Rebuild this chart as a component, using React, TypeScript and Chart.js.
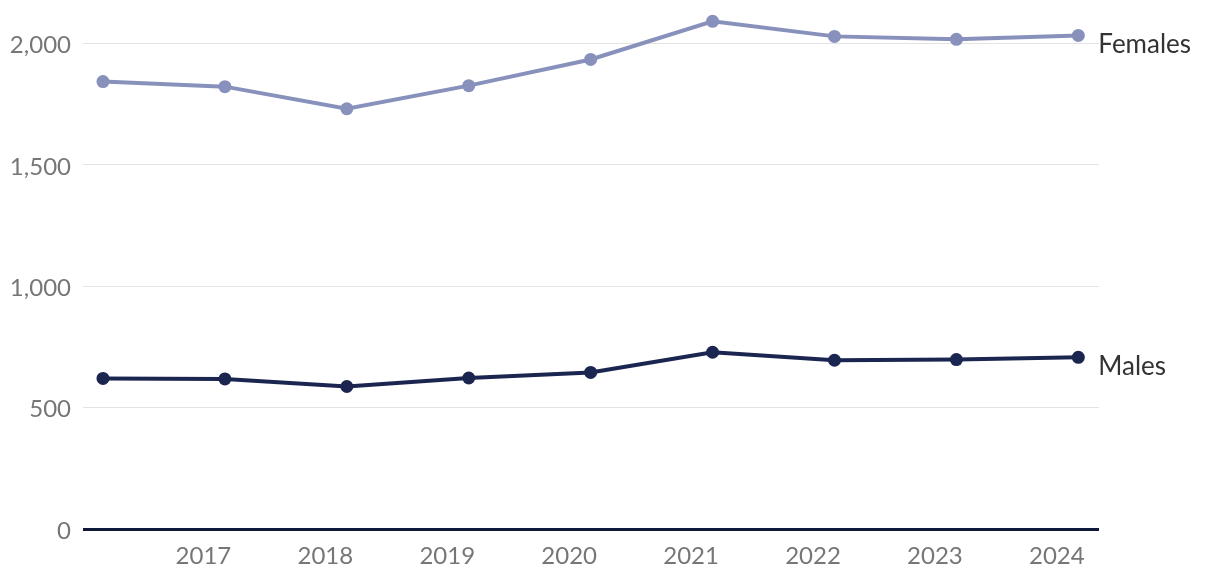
import React, { useEffect, useRef } from "react";
import { Chart, registerables } from "chart.js";

Chart.register(...registerables);

const years = [2016, 2017, 2018, 2019, 2020, 2021, 2022, 2023, 2024];
const females = [1843, 1822, 1731, 1826, 1934, 2091, 2029, 2017, 2033];
const males = [620, 618, 587, 622, 645, 728, 695, 698, 707];
const xTickYears = [2017, 2018, 2019, 2020, 2021, 2022, 2023, 2024];
const yTickValues = [0, 500, 1000, 1500, 2000];
const seriesNames = ["Females", "Males"];

const FEMALE_COLOR = "#8891bc";
const MALE_COLOR = "#1b2650";
const FONT = "Lato";

const endLabels = {
  id: "endLabels",
  afterDatasetsDraw(chart: any) {
    const ctx = chart.ctx;
    ctx.save();
    ctx.font = `26px ${FONT}`;
    ctx.fillStyle = "#333333";
    ctx.textAlign = "left";
    ctx.textBaseline = "middle";
    chart.data.datasets.forEach((ds: any, i: number) => {
      const meta = chart.getDatasetMeta(i);
      const last = meta.data[meta.data.length - 1];
      if (!last) return;
      ctx.fillText(ds.label, last.x + 20, last.y + 9.5);
    });
    ctx.restore();
  },
};

export default function App() {
  const ref = useRef<HTMLCanvasElement | null>(null);
  useEffect(() => {
    document.body.style.margin = "0";
    const canvas = ref.current;
    if (!canvas) return;
    const chart = new Chart(canvas, {
      type: "line",
      data: {
        datasets: [
          {
            label: seriesNames[0],
            data: years.map((y, i) => ({ x: y, y: females[i] })),
            borderColor: FEMALE_COLOR,
            backgroundColor: FEMALE_COLOR,
            pointBackgroundColor: FEMALE_COLOR,
            pointBorderWidth: 0,
            borderWidth: 4,
            pointRadius: 6.5,
            clip: false as any,
          },
          {
            label: seriesNames[1],
            data: years.map((y, i) => ({ x: y, y: males[i] })),
            borderColor: MALE_COLOR,
            backgroundColor: MALE_COLOR,
            pointBackgroundColor: MALE_COLOR,
            pointBorderWidth: 0,
            borderWidth: 4,
            pointRadius: 6.5,
            clip: false as any,
          },
        ],
      },
      options: {
        animation: false,
        responsive: false,
        maintainAspectRatio: false,
        layout: { padding: { top: 7, right: 121, left: 0, bottom: 0 } },
        plugins: {
          legend: { display: false },
          tooltip: { enabled: false },
        },
        scales: {
          x: {
            type: "linear",
            min: 2016 - 20 / 122,
            max: 2024 + 20.7 / 122,
            grid: { display: false, drawTicks: false },
            border: { display: false },
            afterBuildTicks: (scale: any) => {
              scale.ticks = xTickYears.map((v) => ({ value: v }));
            },
            afterFit: (scale: any) => {
              scale.height = 55;
              scale.paddingLeft = 0;
              scale.paddingRight = 0;
            },
            ticks: {
              autoSkip: false,
              maxRotation: 0,
              labelOffset: -21.5,
              padding: 13,
              color: "#767676",
              font: { family: FONT, size: 24 },
              callback: (v: any) => String(v),
            },
          },
          y: {
            min: 0,
            max: 2150,
            afterBuildTicks: (scale: any) => {
              scale.ticks = yTickValues.map((v) => ({ value: v }));
            },
            afterFit: (scale: any) => {
              scale.width = 83;
              scale.paddingTop = 0;
              scale.paddingBottom = 0;
            },
            border: { display: false },
            grid: {
              drawTicks: false,
              color: (c: any) => (c.tick && c.tick.value === 0 ? "#0e1838" : "#e3e3e3"),
              lineWidth: (c: any) => (c.tick && c.tick.value === 0 ? 3 : 1),
            },
            ticks: {
              padding: 12,
              labelOffset: 2,
              color: "#767676",
              font: { family: FONT, size: 24 },
              callback: (v: any) => Number(v).toLocaleString("en-US"),
            },
          },
        },
      },
      plugins: [endLabels],
    });
    return () => chart.destroy();
  }, []);
  return (
    <div style={{ width: 1220, height: 584 }}>
      <canvas ref={ref} width={1220} height={584} style={{ display: "block" }} />
    </div>
  );
}
